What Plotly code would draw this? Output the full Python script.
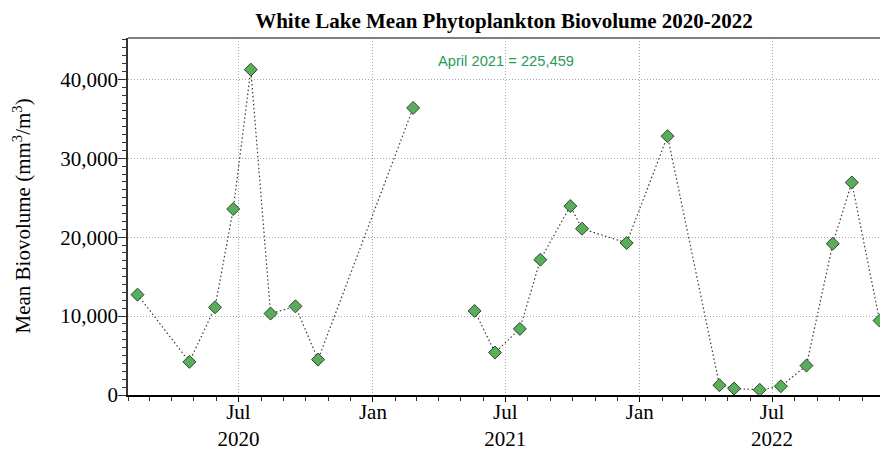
import plotly.graph_objects as go

# ---- data ----
dates = ["2020-02-14", "2020-04-25", "2020-05-30", "2020-06-24", "2020-07-18",
         "2020-08-14", "2020-09-17", "2020-10-18", "2021-02-25", "2021-04-15",
         "2021-05-20", "2021-06-17", "2021-07-21", "2021-08-18", "2021-09-28",
         "2021-10-14", "2021-12-14", "2022-02-08", "2022-04-20", "2022-05-10",
         "2022-06-14", "2022-07-13", "2022-08-17", "2022-09-22", "2022-10-18",
         "2022-11-25"]
biovolume = [12720, 4200, 11110, 23570, 41240,
             10320, 11240, 4490, 36390, None,      # April 2021 is off scale (gap)
             10660, 5380, 8380, 17150, 23950,
             21080, 19270, 32810, 1240, 820,
             660, 1110, 3730, 19180, 26940,
             9430]
offscale_label = "April 2021"
offscale_value = 225459

tick_dates = ["2020-07-01", "2021-01-01", "2021-07-01", "2022-01-01", "2022-07-01"]
tick_text = ["Jul<br>2020", "Jan", "Jul<br>2021", "Jan", "Jul<br>2022"]
y_ticks = [0, 10000, 20000, 30000, 40000]

title_text = "White Lake Mean Phytoplankton Biovolume 2020-2022"
y_title = "Mean Biovolume (mm<sup>3</sup>/m<sup>3</sup>)"

serif = "Liberation Serif, Times New Roman, serif"
fs = 21

fig = go.Figure()
fig.add_trace(go.Scatter(
    x=dates, y=biovolume, mode="lines+markers",
    connectgaps=False, cliponaxis=False,
    line=dict(color="#3a3a3a", width=1.2, dash="1.5px,2.5px"),
    marker=dict(symbol="diamond", size=10, color="#5aad5a",
                line=dict(color="#2b482b", width=1)),
    showlegend=False,
))

fig.update_layout(
    width=880, height=449,
    margin=dict(l=128, r=0, t=38, b=54),
    plot_bgcolor="white", paper_bgcolor="white",
    title=dict(text="<b>" + title_text + "</b>", x=0.5, xref="paper",
               y=1 - 21 / 449, yref="container", yanchor="middle",
               font=dict(family=serif, size=fs, color="black")),
    xaxis=dict(
        range=["2020-02-01", "2022-11-25 14:00"],
        automargin=False,
        tickvals=tick_dates, ticktext=tick_text,
        ticks="outside", ticklen=5, tickcolor="black", tickwidth=1,
        ticklabelstandoff=-8,
        showline=True, linecolor="black", linewidth=1.5,
        showgrid=True, gridcolor="#a8a8a8", griddash="1px,2px", gridwidth=1,
        tickfont=dict(family=serif, size=fs, color="black"),
        minor=dict(dtick="M1", tick0="2020-02-01", ticks="outside", ticklen=4,
                   tickcolor="#333", showgrid=False),
        zeroline=False,
    ),
    yaxis=dict(
        range=[0, 45250],
        automargin=False,
        tickvals=y_ticks, tickformat=",",
        ticks="outside", ticklen=8, tickcolor="#333", tickwidth=1,
        ticklabelstandoff=-4,
        showline=True, linecolor="#333", linewidth=1.5,
        showgrid=True, gridcolor="#a8a8a8", griddash="1px,2px", gridwidth=1,
        tickfont=dict(family=serif, size=fs, color="black"),
        minor=dict(dtick=1000, tick0=0, ticks="outside", ticklen=4,
                   tickcolor="#333", showgrid=False),
        zeroline=False,
    ),
)

# y-axis title placed as rotated text to the left of the tick labels
fig.add_annotation(
    text=y_title, textangle=-90,
    xref="paper", yref="paper", x=-(128 - 22) / 752, y=0.5,
    xanchor="center", yanchor="middle", showarrow=False,
    font=dict(family=serif, size=fs, color="black"),
)

# top frame line
fig.add_shape(type="line", xref="paper", yref="paper", x0=0, x1=1, y0=1, y1=1,
              line=dict(color="#555555", width=1.5))

fig.add_annotation(
    text=f"{offscale_label} = {offscale_value:,}",
    xref="paper", yref="paper", x=0.502, y=(395.5 - 61) / 357.5,
    showarrow=False, xanchor="center", yanchor="middle",
    font=dict(family="Liberation Sans, Arial, sans-serif", size=14.7, color="#2a9a5b"),
)

fig.write_html("out.html")
